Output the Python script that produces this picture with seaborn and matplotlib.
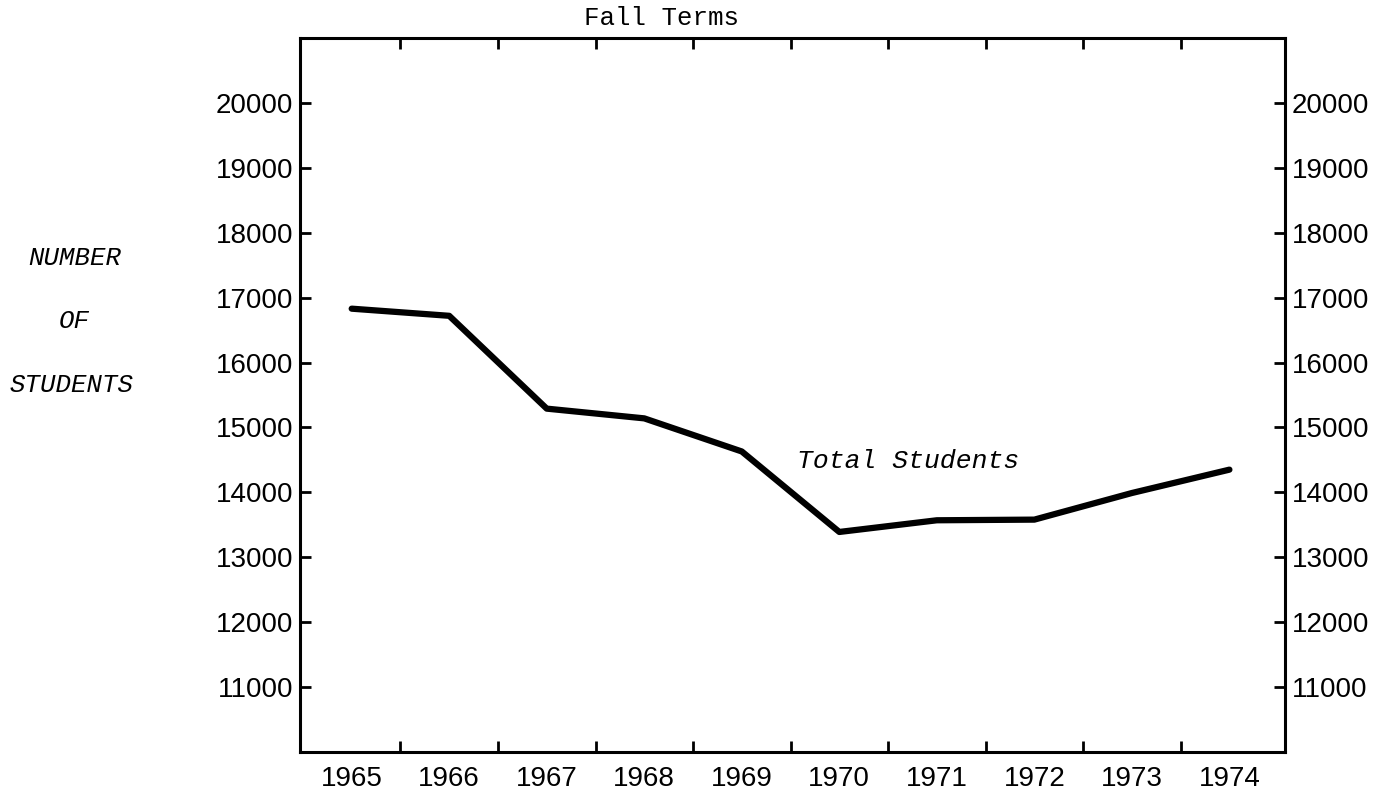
import matplotlib
matplotlib.use("Agg")
import matplotlib.pyplot as plt
import seaborn as sns
import pandas as pd

# dados (termos de outono)
anos = [1965, 1966, 1967, 1968, 1969, 1970, 1971, 1972, 1973, 1974]
alunos = [16830, 16720, 15290, 15140, 14630, 13390, 13570, 13580, 13990, 14350]
marcas_y = [11000, 12000, 13000, 14000, 15000, 16000, 17000, 18000, 19000, 20000]
rotulo_serie = "Total Students"
titulo_topo = "Fall Terms"
rotulo_eixo = ["NUMBER", "OF", "STUDENTS"]

df = pd.DataFrame({"ano": anos, "alunos": alunos})

sns.set_theme(style="ticks")
plt.rcParams["font.family"] = ["Liberation Sans", "DejaVu Sans"]
mono = ["Liberation Mono", "DejaVu Sans Mono"]

fig = plt.figure(figsize=(13.92, 7.98), dpi=100)
ax = fig.add_axes([300 / 1392, 1 - 752 / 798, 985 / 1392, 714 / 798])

sns.lineplot(data=df, x="ano", y="alunos", ax=ax, color="black", linewidth=4.5)

ax.set_xlim(1964.47, 1974.57)
ax.set_ylim(10000, 21000)

# eixo x: rotulos nos anos, marcas nos meios-anos (em cima e embaixo)
ax.set_xticks(anos)
ax.set_xticklabels([str(a) for a in anos])
ax.set_xticks([a + 0.5 for a in anos[:-1]], minor=True)
ax.tick_params(axis="x", which="major", length=0, labelsize=20, pad=10, colors="black")
ax.tick_params(axis="x", which="minor", direction="in", length=8, width=2,
               top=True, bottom=True, color="black")

# eixo y: mesmos rotulos dos dois lados
ax.set_yticks(marcas_y)
ax.set_yticklabels([str(v) for v in marcas_y])
ax.tick_params(axis="y", which="major", direction="in", length=8, width=2,
               left=True, right=True, labelleft=True, labelright=True,
               labelsize=20, pad=5, colors="black")

for lado in ["left", "right", "top", "bottom"]:
    ax.spines[lado].set_visible(True)
    ax.spines[lado].set_linewidth(2.2)
    ax.spines[lado].set_color("black")

ax.set_xlabel("")
ax.set_ylabel("")

# textos
fig.text(662 / 1392, 1 - 25 / 798, titulo_topo, ha="center", va="baseline",
         family=mono, fontsize=18.5, color="black")

for texto, (xc, yb) in zip(rotulo_eixo, [(75, 265), (74, 328), (72, 392)]):
    fig.text(xc / 1392, 1 - yb / 798, texto, ha="center", va="baseline",
             family=mono, style="italic", fontsize=18.5, color="black")

ax.text(0.617, 0.398, rotulo_serie, transform=ax.transAxes, ha="center", va="baseline",
        family=mono, style="italic", fontsize=19, color="black")

plt.savefig("out.png", dpi=100)
